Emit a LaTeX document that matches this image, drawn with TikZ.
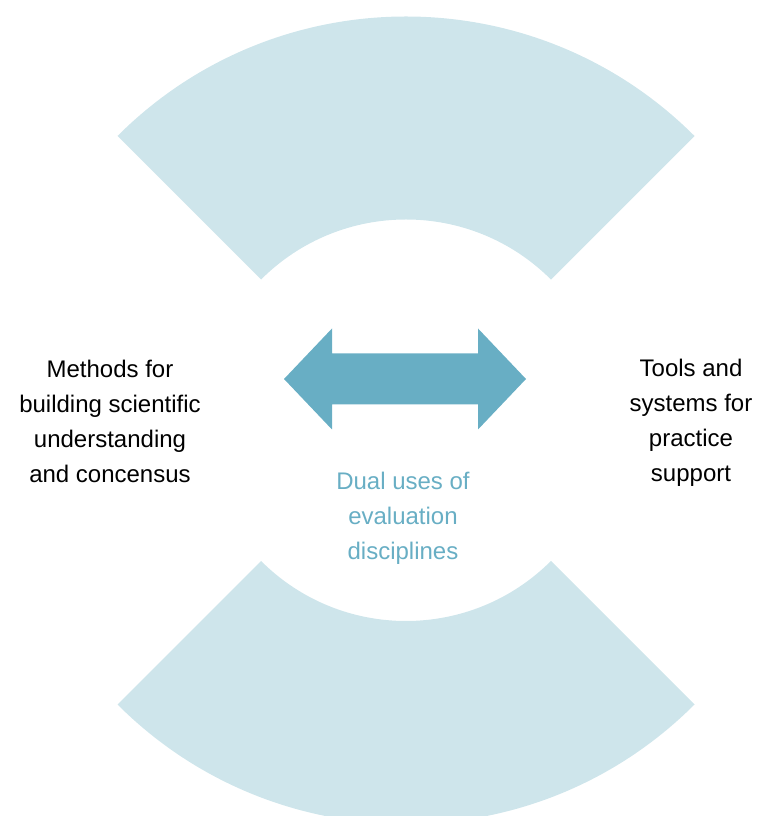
\documentclass[tikz,border=0pt]{standalone}
\usepackage{fontspec}
\setmainfont{Liberation Sans}
\usetikzlibrary{calc}

\definecolor{fanblue}{HTML}{CEE5EB}
\definecolor{arrowblue}{HTML}{68AEC4}

\tikzset{
    fan/.style={fill=fanblue},
    bigarrow/.style={fill=arrowblue},
    sidetext/.style={align=center, inner sep=0pt, font=\fontsize{24}{35}\selectfont},
    midtext/.style={sidetext, text=arrowblue}
}

\begin{document}
\begin{tikzpicture}[x=1pt, y=1pt]
    \clip (0,0) rectangle (757,816);
    \coordinate (topc) at (406,391.5);
    \coordinate (botc) at (406,400);
    \coordinate (mid) at (405,437);

    % upper and lower fans
    \fill[fan] ([shift={(45:205)}]topc) arc[start angle=45, end angle=135, radius=205]
        -- ([shift={(135:408)}]topc) arc[start angle=135, end angle=45, radius=408] -- cycle;
    \fill[fan] ([shift={(-45:205)}]botc) arc[start angle=-45, end angle=-135, radius=205]
        -- ([shift={(-135:408)}]botc) arc[start angle=-135, end angle=-45, radius=408] -- cycle;

    % double arrow
    \fill[bigarrow] ([shift={(-121,0)}]mid) -- ([shift={(-73,50.5)}]mid) -- ([shift={(-73,25.5)}]mid)
        -- ([shift={(73,25.5)}]mid) -- ([shift={(73,50.5)}]mid) -- ([shift={(121,0)}]mid)
        -- ([shift={(73,-50.5)}]mid) -- ([shift={(73,-25.5)}]mid) -- ([shift={(-73,-25.5)}]mid)
        -- ([shift={(-73,-50.5)}]mid) -- cycle;

    \node[sidetext] (methods) at (110,394.25) {Methods for\\building scientific\\understanding\\and concensus};
    \node[sidetext] (tools) at (691,392.75) {Tools and\\systems for\\practice\\support};
    \node[midtext] (dual) at (403,297.25) {Dual uses of\\evaluation\\disciplines};
\end{tikzpicture}
\end{document}
